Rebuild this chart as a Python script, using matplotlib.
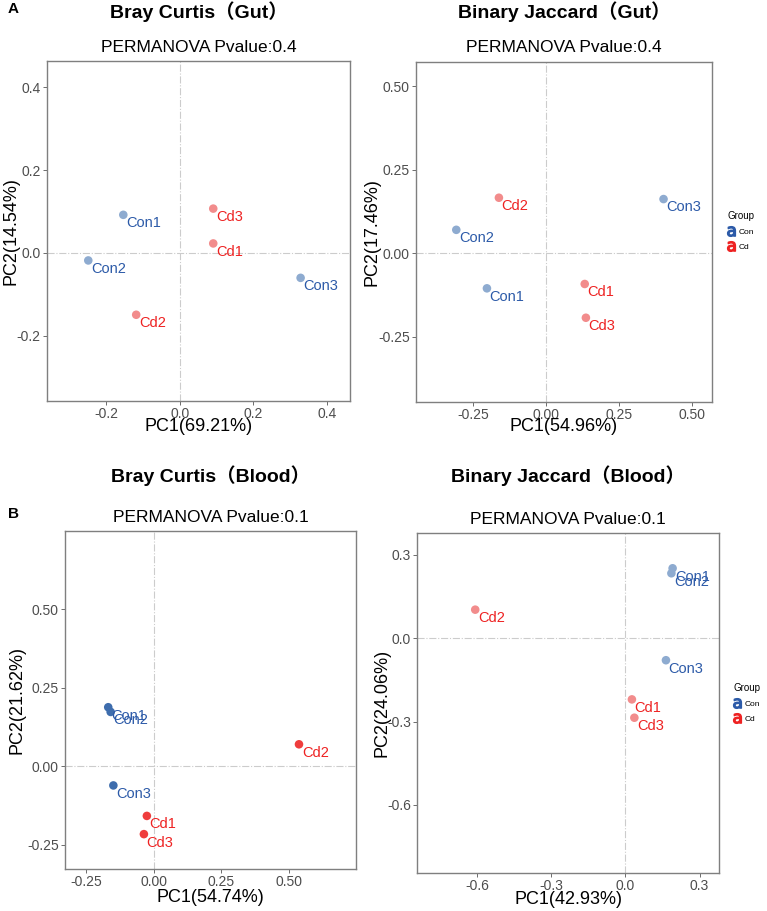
import matplotlib.pyplot as plt
from matplotlib.lines import Line2D

plt.rcParams['font.family'] = ['Liberation Sans', 'Noto Sans CJK SC', 'DejaVu Sans']

samples = ['Con1', 'Con2', 'Con3', 'Cd1', 'Cd2', 'Cd3']
groups = ['Con', 'Con', 'Con', 'Cd', 'Cd', 'Cd']

# PCoA coordinates
gut_bray_pc1 = [-0.153, -0.248, 0.328, 0.091, -0.118, 0.091]
gut_bray_pc2 = [0.092, -0.018, -0.060, 0.023, -0.149, 0.107]
gut_jac_pc1 = [-0.203, -0.308, 0.402, 0.132, -0.162, 0.136]
gut_jac_pc2 = [-0.105, 0.070, 0.162, -0.092, 0.166, -0.193]
blood_bray_pc1 = [-0.168, -0.159, -0.149, -0.025, 0.538, -0.036]
blood_bray_pc2 = [0.188, 0.173, -0.061, -0.158, 0.070, -0.216]
blood_jac_pc1 = [0.191, 0.186, 0.164, 0.026, -0.609, 0.036]
blood_jac_pc2 = [0.252, 0.234, -0.079, -0.220, 0.103, -0.286]

titles = ['Bray Curtis（Gut）', 'Binary Jaccard（Gut）',
          'Bray Curtis（Blood）', 'Binary Jaccard（Blood）']
subtitles = ['PERMANOVA Pvalue:0.4', 'PERMANOVA Pvalue:0.4',
             'PERMANOVA Pvalue:0.1', 'PERMANOVA Pvalue:0.1']
xlabels = ['PC1(69.21%)', 'PC1(54.96%)', 'PC1(54.74%)', 'PC1(42.93%)']
ylabels = ['PC2(14.54%)', 'PC2(17.46%)', 'PC2(21.62%)', 'PC2(24.06%)']
xticks = [[-0.2, 0.0, 0.2, 0.4], [-0.25, 0.0, 0.25, 0.5],
          [-0.25, 0.0, 0.25, 0.5], [-0.6, -0.3, 0.0, 0.3]]
yticks = [[-0.2, 0.0, 0.2, 0.4], [-0.25, 0.0, 0.25, 0.5],
          [-0.25, 0.0, 0.25, 0.5], [-0.6, -0.3, 0.0, 0.3]]
tickfmt = ['%.1f', '%.2f', '%.2f', '%.1f']

W, H = 767, 911
fig = plt.figure(figsize=(W / 100, H / 100), dpi=100)

# axes boxes in pixels: left, top, right, bottom
boxes = [(47, 61, 350, 401), (416, 62, 712, 402),
         (65, 531, 356, 869), (417, 533, 719, 873)]
limits = [((-0.36, 0.462), (-0.357, 0.463)),
          ((-0.446, 0.568), (-0.445, 0.572)),
          ((-0.328, 0.749), (-0.327, 0.749)),
          ((-0.845, 0.379), (-0.845, 0.379))]
data = [(gut_bray_pc1, gut_bray_pc2), (gut_jac_pc1, gut_jac_pc2),
        (blood_bray_pc1, blood_bray_pc2), (blood_jac_pc1, blood_jac_pc2)]

light = {'Con': '#8eabd0', 'Cd': '#f28c8c'}
dark = {'Con': '#3e6dad', 'Cd': '#ef3d3d'}
txt = {'Con': '#2c5aa8', 'Cd': '#ee2222'}
dot_colors = [light, light, dark, light]

title_y = [12, 12, 476, 476]
sub_y = [47, 48, 517, 519]
ylab_x = [11, 372, 17, 382]
xlab_y = [426, 426, 898, 900]

for i in range(4):
    l, t, r, b = boxes[i]
    ax = fig.add_axes([l / W, 1 - b / H, (r - l) / W, (b - t) / H])
    x, y = data[i]
    ax.axvline(0, color='#cccccc', ls='-.', lw=0.8, zorder=0)
    ax.axhline(0, color='#cccccc', ls='-.', lw=0.8, zorder=0)
    for xi, yi, s, g in zip(x, y, samples, groups):
        ax.scatter(xi, yi, s=38, color=dot_colors[i][g], edgecolors='none', zorder=3)
        ax.annotate(s, (xi, yi), xytext=(2, -1), textcoords='offset points',
                    ha='left', va='top', fontsize=10.5, color=txt[g], zorder=4)
    ax.set_xlim(limits[i][0])
    ax.set_ylim(limits[i][1])
    ax.set_xticks(xticks[i])
    ax.set_yticks(yticks[i])
    ax.set_xticklabels([tickfmt[i] % v for v in xticks[i]])
    ax.set_yticklabels([tickfmt[i] % v for v in yticks[i]])
    ax.tick_params(length=3, width=0.6, color='#555555', labelcolor='#4d4d4d',
                   labelsize=10, pad=1.5)
    for sp in ax.spines.values():
        sp.set_color('#7f7f7f')
        sp.set_linewidth(1.0)
    cx = (l + r) / 2
    fig.text(cx / W, 1 - title_y[i] / H, titles[i], ha='center', va='center',
             fontsize=14, fontweight='bold')
    fig.text(cx / W, 1 - sub_y[i] / H, subtitles[i], ha='center', va='center',
             fontsize=12.5)
    fig.text(ylab_x[i] / W, 1 - (t + b) / 2 / H, ylabels[i], ha='center', va='center',
             rotation=90, fontsize=13)
    fig.text(cx / W, 1 - xlab_y[i] / H, xlabels[i], ha='center', va='center',
             fontsize=13)

# legends
for gy, gx in [(216, 727), (688, 733)]:
    fig.text(gx / W, 1 - gy / H, 'Group', ha='left', va='center', fontsize=7)
    handles = [Line2D([], [], ls='none', marker=r'$\mathrm{a}$', markersize=7,
                      color=txt[g], label=g) for g in ['Con', 'Cd']]
    fig.legend(handles=handles, loc='upper left',
               bbox_to_anchor=((gx - 6) / W, 1 - (gy + 6) / H),
               frameon=False, fontsize=6, handlelength=1, handletextpad=0.4,
               labelspacing=0.9, borderpad=0.2)

fig.text(8 / W, 1 - 9 / H, 'A', ha='left', va='center', fontsize=11, fontweight='bold')
fig.text(8 / W, 1 - 514 / H, 'B', ha='left', va='center', fontsize=11, fontweight='bold')

fig.savefig('out.png', dpi=100, facecolor='white')
